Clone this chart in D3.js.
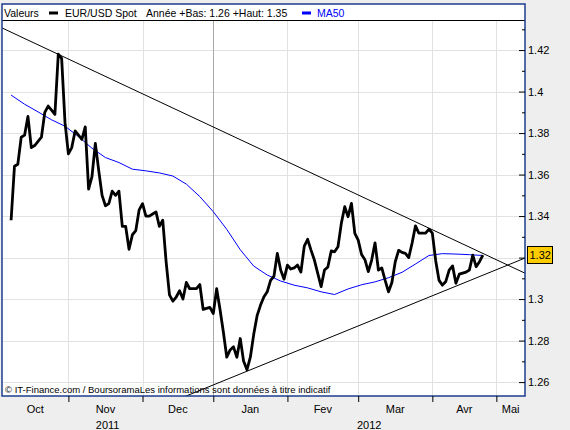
<!DOCTYPE html>
<html>
<head>
<meta charset="utf-8">
<script src="https://cdn.jsdelivr.net/npm/d3@7"></script>
<style>
  body { margin: 0; background: #eeeeee; }
  svg { display: block; font-family: "Liberation Sans", Arial, sans-serif; }
</style>
</head>
<body>
<div id="chart"></div>
<script>
// EUR/USD daily closes, one per trading day (index 0 = 7 Oct 2011)
const closes = [
  1.338, 1.364, 1.365, 1.378, 1.379, 1.388, 1.373, 1.374, 1.376, 1.378,
  1.390, 1.393, 1.391, 1.389, 1.418, 1.416, 1.385, 1.370, 1.373, 1.381,
  1.379, 1.377, 1.383, 1.353, 1.359, 1.375, 1.362, 1.350, 1.345, 1.346,
  1.352, 1.350, 1.352, 1.335, 1.335, 1.324, 1.331, 1.333, 1.343, 1.346,
  1.340, 1.340, 1.341, 1.342, 1.335, 1.338, 1.318, 1.302, 1.299, 1.301,
  1.304, 1.300, 1.308, 1.305, 1.305, 1.305, 1.307, 1.295, 1.2955, 1.296,
  1.293, 1.305, 1.295, 1.284, 1.272, 1.2755, 1.277, 1.272, 1.281, 1.270,
  1.266, 1.272, 1.283, 1.292, 1.297, 1.301, 1.3035, 1.309, 1.311, 1.322,
  1.314, 1.3096, 1.3164, 1.3145, 1.315, 1.3164, 1.313, 1.3255, 1.3288, 1.3236,
  1.3188, 1.3124, 1.306, 1.314, 1.3155, 1.3232, 1.3228, 1.3252, 1.3365, 1.3445,
  1.3397, 1.3461, 1.3317, 1.3284, 1.3215, 1.319, 1.3132, 1.3188, 1.3271, 1.314,
  1.315, 1.309, 1.3035, 1.308, 1.318, 1.3235, 1.3225, 1.322, 1.320, 1.327,
  1.3353, 1.3318, 1.3318, 1.3318, 1.3337, 1.3318, 1.3185, 1.309, 1.3067, 1.3085,
  1.314, 1.316, 1.3076, 1.312, 1.3125, 1.313, 1.314, 1.3212, 1.3156, 1.318,
  1.3212
];

// 50-day moving average, read at every 4th trading day
const maIndex = [0, 4, 8, 12, 16, 20, 24, 28, 32, 36, 40, 44, 48, 52, 56, 60, 64, 68,
  72, 76, 80, 84, 88, 92, 96, 100, 104, 108, 112, 116, 120, 124, 128, 132, 136, 140];
const maValues = [1.3983, 1.3939, 1.3902, 1.3864, 1.3833, 1.3783, 1.3727, 1.3682, 1.3658,
  1.3626, 1.3618, 1.3608, 1.3593, 1.3554, 1.3494, 1.3421, 1.3336, 1.3238, 1.3159, 1.3116,
  1.3087, 1.3067, 1.3054, 1.3035, 1.3022, 1.3049, 1.3069, 1.3083, 1.3103, 1.3129, 1.3169,
  1.3210, 1.3219, 1.3217, 1.3214, 1.3210];

// trend lines (trading-day index, value)
const resistance = [{ i: -3, v: 1.4309 }, { i: 153, v: 1.3121 }];
const support = [{ i: 48, v: 1.2507 }, { i: 153, v: 1.3201 }];

// calendar: first trading day of each month as index
const monthStarts = [-4, 17, 39, 60, 82, 103, 125, 144, 166];
const monthLabels = ["Oct", "Nov", "Dec", "Jan", "Fev", "Mar", "Avr", "Mai"];
const yearStarts = [-4, 60, 313];
const yearLabels = ["2011", "2012"];

const yTicks = [1.26, 1.28, 1.3, 1.32, 1.34, 1.36, 1.38, 1.4, 1.42];
const yMinor = [1.27, 1.29, 1.31, 1.33, 1.35, 1.37, 1.39, 1.41, 1.43];

const width = 570, height = 430;
const plot = { left: 2, right: 525, top: 21, bottom: 396 };

const svg = d3.select("#chart").append("svg")
  .attr("width", width)
  .attr("height", height);

const x = d3.scaleLinear().domain([-2.7, 152.5]).range([plot.left, plot.right]);
const y = d3.scaleLinear().domain([1.2533, 1.434]).range([plot.bottom, plot.top]);

const last = closes[closes.length - 1];

// frame
svg.append("rect")
  .attr("x", 2).attr("y", 4)
  .attr("width", plot.right - 2).attr("height", plot.bottom - 4)
  .attr("fill", "#fff");

svg.append("defs").append("clipPath").attr("id", "clip")
  .append("rect")
  .attr("x", plot.left).attr("y", plot.top)
  .attr("width", plot.right - plot.left).attr("height", plot.bottom - plot.top);

// gridlines
svg.append("g").selectAll("line")
  .data(yTicks)
  .join("line")
  .attr("x1", plot.left).attr("x2", plot.right)
  .attr("y1", d => Math.round(y(d)) + 0.5).attr("y2", d => Math.round(y(d)) + 0.5)
  .attr("stroke", "#e2e2e2");

const innerMonths = monthStarts.filter(d => x(d) > plot.left && x(d) < plot.right);
svg.append("g").selectAll("line")
  .data(innerMonths)
  .join("line")
  .attr("x1", d => Math.round(x(d)) + 0.5).attr("x2", d => Math.round(x(d)) + 0.5)
  .attr("y1", plot.top).attr("y2", plot.bottom)
  .attr("stroke", d => yearStarts.includes(d) ? "#a8a8a8" : "#e2e2e2");

// series
const g = svg.append("g").attr("clip-path", "url(#clip)");

const trend = d3.line().x(d => x(d.i)).y(d => y(d.v));
[resistance, support].forEach(t => {
  g.append("path")
    .attr("d", trend(t))
    .attr("fill", "none")
    .attr("stroke", "#000")
    .attr("stroke-width", 1);
});

g.append("path")
  .attr("d", d3.line().x((d, i) => x(maIndex[i])).y(d => y(d))(maValues))
  .attr("fill", "none")
  .attr("stroke", "#0000ff")
  .attr("stroke-width", 1);

g.append("path")
  .attr("d", d3.line().x((d, i) => x(i)).y(d => y(d))(closes))
  .attr("fill", "none")
  .attr("stroke", "#000")
  .attr("stroke-width", 2.8)
  .attr("stroke-linejoin", "round");

// credit
svg.append("text")
  .attr("x", 5).attr("y", 393)
  .style("font-size", "9.5px")
  .text("© IT-Finance.com / BoursoramaLes informations sont données à titre indicatif");

// header
svg.append("line")
  .attr("x1", 2).attr("x2", plot.right)
  .attr("y1", plot.top - 0.5).attr("y2", plot.top - 0.5)
  .attr("stroke", "#000");

const header = svg.append("g").style("font-size", "10.5px");
header.append("text").attr("x", 4).attr("y", 17).text("Valeurs");
header.append("line").attr("x1", 49).attr("x2", 58).attr("y1", 13).attr("y2", 13)
  .attr("stroke", "#000").attr("stroke-width", 3);
header.append("text").attr("x", 65).attr("y", 17).text("EUR/USD Spot");
header.append("text").attr("x", 146).attr("y", 17).text("Année +Bas: 1.26 +Haut: 1.35");
header.append("line").attr("x1", 302).attr("x2", 311).attr("y1", 13).attr("y2", 13)
  .attr("stroke", "#0000ff").attr("stroke-width", 3);
header.append("text").attr("x", 317).attr("y", 17).attr("fill", "#0000ff").text("MA50");

// frame border
svg.append("rect")
  .attr("x", 2).attr("y", 4)
  .attr("width", plot.right - 2).attr("height", plot.bottom - 4)
  .attr("fill", "none")
  .attr("stroke", "#1d3c8c")
  .attr("stroke-width", 1.5);

// right axis (the label under the price marker is hidden by it)
const yAxis = svg.append("g")
  .attr("transform", `translate(${plot.right},0)`)
  .call(d3.axisRight(y).tickValues(yTicks).tickSize(-6).tickPadding(3)
    .tickFormat(d => Math.abs(y(d) - y(last)) < 12 ? "" : String(d)));
yAxis.select(".domain").remove();
yAxis.selectAll("text").style("font-size", "11px").style("font-family", "Liberation Sans, Arial, sans-serif").attr("fill", "#000");

const yAxisMinor = svg.append("g")
  .attr("transform", `translate(${plot.right},0)`)
  .call(d3.axisRight(y).tickValues(yMinor).tickSize(-3).tickFormat(""));
yAxisMinor.select(".domain").remove();

// bottom axis ticks
const xAxis = svg.append("g")
  .attr("transform", `translate(0,${plot.bottom})`)
  .call(d3.axisBottom(x).tickValues(innerMonths).tickSize(6).tickFormat(""));
xAxis.select(".domain").remove();

// month labels centred on the visible part of each month
const clampX = v => Math.max(plot.left, Math.min(plot.right, x(v)));
svg.append("g").selectAll("text")
  .data(monthLabels)
  .join("text")
  .attr("x", (d, i) => (clampX(monthStarts[i]) + clampX(monthStarts[i + 1])) / 2)
  .attr("y", 413)
  .attr("text-anchor", "middle")
  .style("font-size", "11px")
  .text(d => d);

svg.append("g").selectAll("text")
  .data(yearLabels)
  .join("text")
  .attr("x", (d, i) => (clampX(yearStarts[i]) + clampX(yearStarts[i + 1])) / 2)
  .attr("y", 429)
  .attr("text-anchor", "middle")
  .style("font-size", "11px")
  .text(d => d);

// last price marker
svg.append("rect")
  .attr("x", 527.5).attr("y", Math.round(y(last)) - 8.5)
  .attr("width", 25).attr("height", 17)
  .attr("fill", "#ffcc00")
  .attr("stroke", "#000");
svg.append("text")
  .attr("x", 529.5).attr("y", Math.round(y(last)) + 4)
  .style("font-size", "11px")
  .text(last.toFixed(2));
</script>
</body>
</html>
